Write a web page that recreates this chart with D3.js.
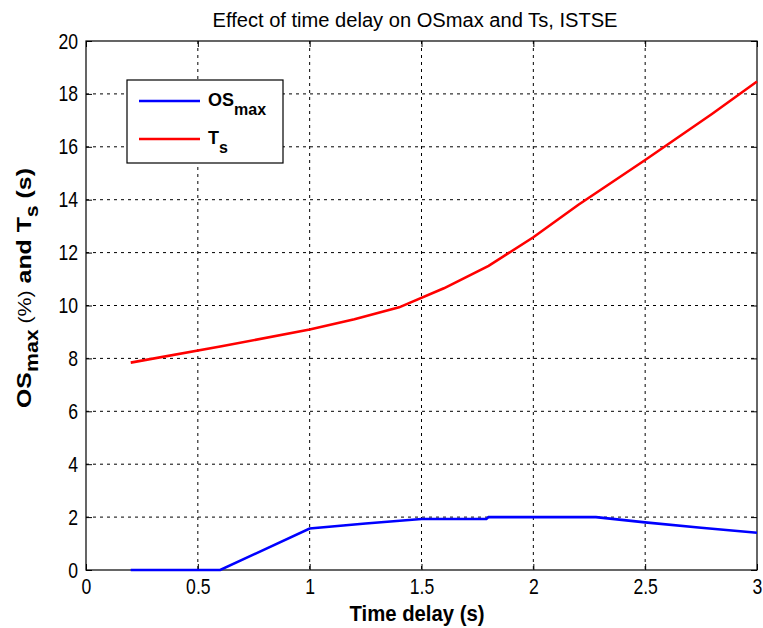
<!DOCTYPE html>
<html><head><meta charset="utf-8">
<script src="https://cdn.jsdelivr.net/npm/d3@7"></script>
<style>
html,body{margin:0;padding:0;background:#fff;}
svg text{font-family:"Liberation Sans",Arial,sans-serif;}
</style></head>
<body><svg id="c" width="763" height="628"></svg>
<script>
const tsX = [0.2, 0.6, 1.0, 1.2, 1.4, 1.6, 1.8, 2.0, 2.2, 2.5, 2.8, 3.0];
const tsY = [7.84, 8.45, 9.09, 9.48, 9.93, 10.65, 11.5, 12.58, 13.8, 15.5, 17.25, 18.47];
const osX = [0.2, 0.6, 1.0, 1.25, 1.5, 1.79, 1.8, 2.28, 2.5, 2.75, 3.0];
const osY = [0, 0, 1.57, 1.76, 1.93, 1.93, 2.0, 2.0, 1.8, 1.6, 1.41];
const xTicks = [0, 0.5, 1, 1.5, 2, 2.5, 3];
const yTicks = [0, 2, 4, 6, 8, 10, 12, 14, 16, 18, 20];

const svg = d3.select("#c");
const L = 86, R = 757, T = 41, B = 570;
const x = d3.scaleLinear().domain([0, 3]).range([L, R]);
const y = d3.scaleLinear().domain([0, 20]).range([B, T]);

function squeeze(sel, f) {
  sel.each(function () {
    const w = this.getComputedTextLength();
    if (w > 0) d3.select(this).attr("textLength", w * f).attr("lengthAdjust", "spacingAndGlyphs");
  });
}

// grid
const g = svg.append("g");
g.selectAll(".vg").data(xTicks.slice(1, -1)).enter().append("line")
  .attr("x1", d => x(d)).attr("x2", d => x(d)).attr("y1", T).attr("y2", B)
  .attr("stroke", "#000").attr("stroke-width", 1).attr("stroke-dasharray", "3,4");
g.selectAll(".hg").data(yTicks.slice(1, -1)).enter().append("line")
  .attr("y1", d => y(d)).attr("y2", d => y(d)).attr("x1", L).attr("x2", R)
  .attr("stroke", "#000").attr("stroke-width", 1).attr("stroke-dasharray", "3,4");

// axes with inner ticks
const fmt = d => String(d);
svg.append("g").attr("transform", `translate(0,${B})`)
  .call(d3.axisBottom(x).tickValues(xTicks).tickFormat(fmt).tickSizeInner(-6).tickSizeOuter(0).tickPadding(8))
  .call(a => a.select(".domain").remove())
  .call(a => a.selectAll("text").attr("font-size", 22).attr("fill", "#000").call(squeeze, 0.8));
svg.append("g").attr("transform", `translate(0,${T})`)
  .call(d3.axisTop(x).tickValues(xTicks).tickFormat("").tickSizeInner(-6).tickSizeOuter(0))
  .call(a => a.select(".domain").remove());
svg.append("g").attr("transform", `translate(${L},0)`)
  .call(d3.axisLeft(y).tickValues(yTicks).tickFormat(fmt).tickSizeInner(-6).tickSizeOuter(0).tickPadding(8))
  .call(a => a.select(".domain").remove())
  .call(a => a.selectAll("text").attr("font-size", 22).attr("fill", "#000").call(squeeze, 0.8));
svg.append("g").attr("transform", `translate(${R},0)`)
  .call(d3.axisRight(y).tickValues(yTicks).tickFormat("").tickSizeInner(-6).tickSizeOuter(0))
  .call(a => a.select(".domain").remove());

svg.append("rect").attr("x", L).attr("y", T).attr("width", R - L).attr("height", B - T)
  .attr("fill", "none").attr("stroke", "#000").attr("stroke-width", 1.2);

// lines
const line = d3.line().x(d => x(d[0])).y(d => y(d[1]));
svg.append("path").datum(d3.zip(osX, osY)).attr("d", line)
  .attr("fill", "none").attr("stroke", "#0000ff").attr("stroke-width", 2.6);
svg.append("path").datum(d3.zip(tsX, tsY)).attr("d", line)
  .attr("fill", "none").attr("stroke", "#ff0000").attr("stroke-width", 2.6);

// title
svg.append("text").attr("x", 415).attr("y", 27).attr("text-anchor", "middle")
  .attr("font-size", 20).attr("textLength", 405).attr("lengthAdjust", "spacingAndGlyphs")
  .text("Effect of time delay on OSmax and Ts, ISTSE");

// x label
svg.append("text").attr("x", 417).attr("y", 621).attr("text-anchor", "middle")
  .attr("font-size", 22).attr("font-weight", "bold").attr("textLength", 135).attr("lengthAdjust", "spacingAndGlyphs")
  .text("Time delay (s)");

// y label
const yl = svg.append("text").attr("text-anchor", "middle").attr("font-size", 21).attr("font-weight", "bold");
yl.append("tspan").text("OS");
yl.append("tspan").attr("dy", 7).attr("font-size", 18).text("max");
yl.append("tspan").attr("dy", -7).attr("font-size", 18).attr("font-weight", "normal").text(" (%)");
yl.append("tspan").text(" and T");
yl.append("tspan").attr("dy", 7).attr("font-size", 18).text("s");
yl.append("tspan").attr("dy", -7).text(" (s)");
const ylw = yl.node().getBBox().width;
yl.attr("transform", `translate(31,288) rotate(-90) scale(${240 / ylw},1)`);

// legend
const lg = svg.append("g");
lg.append("rect").attr("x", 127).attr("y", 80).attr("width", 156).attr("height", 83)
  .attr("fill", "#fff").attr("stroke", "#000").attr("stroke-width", 1.2);
const items = [{c: "#0000ff", t: "OS", s: "max", yy: 101}, {c: "#ff0000", t: "T", s: "s", yy: 139}];
items.forEach(it => {
  lg.append("line").attr("x1", 139).attr("x2", 200).attr("y1", it.yy).attr("y2", it.yy)
    .attr("stroke", it.c).attr("stroke-width", 2.6);
  const t = lg.append("text").attr("x", 208).attr("y", it.yy + 5).attr("font-size", 18).attr("font-weight", "bold");
  t.append("tspan").text(it.t);
  t.append("tspan").attr("dy", 9).attr("font-size", 16).text(it.s);
});
</script></body></html>
